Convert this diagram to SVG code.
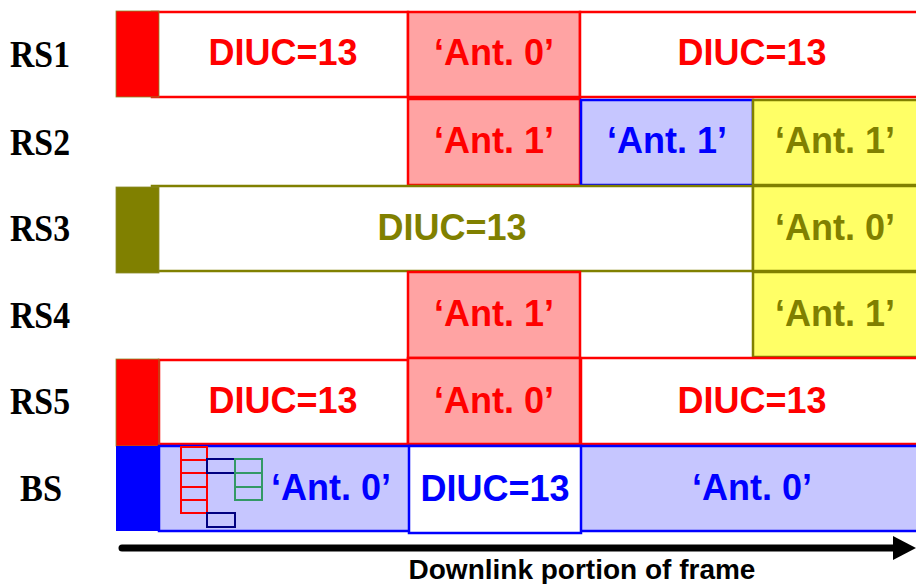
<svg xmlns="http://www.w3.org/2000/svg" width="916" height="584" viewBox="0 0 916 584">
  <style>
    .lbl { font-family: "Liberation Serif", "Times New Roman", serif; font-weight: bold; font-size: 38px; fill: #000; }
    .t { font-family: "Liberation Sans", Arial, sans-serif; font-weight: bold; font-size: 36px; text-anchor: middle; }
    .red { fill: #FF0000; }
    .blue { fill: #0000FF; }
    .olive { fill: #808000; }
    .bR { stroke: #FF0000; stroke-width: 2.5; }
    .bB { stroke: #0000FF; stroke-width: 2.5; }
    .bO { stroke: #808000; stroke-width: 2.5; }
    .white { fill: #FFFFFF; }
    .pink { fill: #FFA3A3; }
    .lav { fill: #C6C6FF; }
    .yel { fill: #FFFF66; }
    .hdr { stroke: #8A8A2A; stroke-width: 0.8; }
    .cell { fill: none; stroke-width: 2; }
    .axis { font-family: "Liberation Sans", Arial, sans-serif; font-weight: bold; font-size: 28px; text-anchor: middle; fill: #000; }
  </style>
  <defs>
    <marker id="head" markerWidth="24" markerHeight="24" refX="0" refY="12" orient="auto" markerUnits="userSpaceOnUse">
      <path d="M0,0 L23,12 L0,24 Z" fill="#000"/>
    </marker>
  </defs>

  <rect width="916" height="584" fill="#FFFFFF"/>

  <!-- row labels -->
  <g id="labels">
    <text class="lbl" x="10" y="67" textLength="60" lengthAdjust="spacingAndGlyphs">RS1</text>
    <text class="lbl" x="10" y="155" textLength="60" lengthAdjust="spacingAndGlyphs">RS2</text>
    <text class="lbl" x="10" y="241" textLength="60" lengthAdjust="spacingAndGlyphs">RS3</text>
    <text class="lbl" x="10" y="328" textLength="60" lengthAdjust="spacingAndGlyphs">RS4</text>
    <text class="lbl" x="10" y="414" textLength="60" lengthAdjust="spacingAndGlyphs">RS5</text>
    <text class="lbl" x="20" y="501" textLength="42" lengthAdjust="spacingAndGlyphs">BS</text>
  </g>

  <!-- RS1 -->
  <g id="rs1">
    <rect class="white bR" x="152" y="12" width="256" height="85"/>
    <rect class="red hdr" x="116" y="11" width="43" height="86"/>
    <rect class="pink bR" x="408" y="12" width="172" height="85"/>
    <rect class="white bR" x="580" y="12" width="340" height="85"/>
    <text class="t red" x="283" y="65">DIUC=13</text>
    <text class="t red" x="494" y="65">‘Ant. 0’</text>
    <text class="t red" x="752" y="65">DIUC=13</text>
  </g>

  <!-- RS2 -->
  <g id="rs2">
    <rect class="pink bR" x="408" y="99" width="172" height="86"/>
    <rect class="lav bB" x="581" y="100" width="172" height="85"/>
    <rect class="yel bO" x="753" y="100" width="167" height="85"/>
    <text class="t red" x="494" y="153">‘Ant. 1’</text>
    <text class="t blue" x="667" y="153">‘Ant. 1’</text>
    <text class="t olive" x="835" y="153">‘Ant. 1’</text>
  </g>

  <!-- RS3 -->
  <g id="rs3">
    <rect class="white bO" x="152" y="186" width="601" height="85"/>
    <rect fill="#808000" class="hdr" x="116" y="187" width="43" height="86"/>
    <rect class="yel bO" x="753" y="186" width="167" height="85"/>
    <text class="t olive" x="452" y="240">DIUC=13</text>
    <text class="t olive" x="835" y="240">‘Ant. 0’</text>
  </g>

  <!-- RS4 -->
  <g id="rs4">
    <rect class="pink bR" x="408" y="272" width="172" height="86"/>
    <rect class="yel bO" x="753" y="272" width="167" height="85"/>
    <text class="t red" x="494" y="326">‘Ant. 1’</text>
    <text class="t olive" x="835" y="326">‘Ant. 1’</text>
  </g>

  <!-- RS5 -->
  <g id="rs5">
    <rect class="white bR" x="159" y="360" width="249" height="84"/>
    <rect class="red hdr" x="116" y="359" width="43" height="87"/>
    <rect class="pink bR" x="408" y="358" width="172" height="86"/>
    <rect class="white bR" x="581" y="358" width="339" height="86"/>
    <text class="t red" x="283" y="413">DIUC=13</text>
    <text class="t red" x="494" y="413">‘Ant. 0’</text>
    <text class="t red" x="752" y="413">DIUC=13</text>
  </g>

  <!-- BS -->
  <g id="bs">
    <rect class="lav bB" x="159" y="446" width="761" height="85"/>
    <rect fill="#0000FF" x="116" y="446" width="43" height="85"/>
    <rect class="white bB" x="409" y="446" width="172" height="87"/>
    <!-- burst allocation cells -->
    <g stroke="#FF0000" class="cell">
      <rect x="181" y="447" width="26" height="13"/>
      <rect x="181" y="460" width="26" height="13"/>
      <rect x="181" y="473" width="26" height="14"/>
      <rect x="181" y="487" width="26" height="13"/>
      <rect x="181" y="500" width="26" height="13"/>
    </g>
    <g stroke="#000080" class="cell">
      <rect x="207" y="459" width="28" height="14"/>
      <rect x="207" y="513" width="28" height="14"/>
    </g>
    <g stroke="#339966" class="cell">
      <rect x="235" y="459" width="27" height="14"/>
      <rect x="235" y="473" width="27" height="14"/>
      <rect x="235" y="487" width="27" height="13"/>
    </g>
    <text class="t blue" x="331" y="500">‘Ant. 0’</text>
    <text class="t blue" x="495" y="501">DIUC=13</text>
    <text class="t blue" x="752" y="500">‘Ant. 0’</text>
  </g>

  <!-- time axis -->
  <g id="connectors">
    <line x1="122" y1="548" x2="893" y2="548" stroke="#000" stroke-width="7" stroke-linecap="round" marker-end="url(#head)"/>
  </g>
  <text class="axis" x="582" y="579">Downlink portion of frame</text>
</svg>
